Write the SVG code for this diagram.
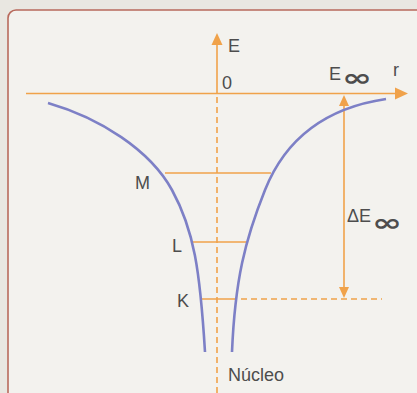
<svg xmlns="http://www.w3.org/2000/svg" width="417" height="393" viewBox="0 0 417 393">
<style>
.ax{stroke:#f0a24a;stroke-width:1.6;fill:none}
.dash{stroke-dasharray:6,4}
.lvl{stroke:#f0a24a;stroke-width:1.6;fill:none}
.curve{stroke:#7d80c6;stroke-width:2.6;fill:none}
.head{fill:#f0a24a}
text{font-family:"Liberation Sans",Arial,sans-serif;fill:#4d4d4d;font-size:18px}
.inf{font-family:"DejaVu Sans",sans-serif;font-weight:bold;font-size:24px}
</style>
<rect x="0" y="0" width="417" height="393" fill="#e9e7e1"/>
<rect x="8" y="10" width="430" height="400" rx="8" fill="#f3f2ee" stroke="#b86a5c" stroke-width="1.6"/>
<g id="connectors">
<line class="ax" x1="217" y1="42" x2="217" y2="93"/>
<line class="ax dash" x1="217" y1="97" x2="217" y2="393"/>
<polygon class="head" points="217,33 211.5,45 222.5,45"/>
<line class="ax" x1="26" y1="93.5" x2="397" y2="93.5"/>
<polygon class="head" points="408,93.5 395,87.5 395,99.5"/>
<line class="ax" x1="344" y1="104" x2="344" y2="288"/>
<polygon class="head" points="344,95 339,106 349,106"/>
<polygon class="head" points="344,298 339,287 349,287"/>
<line class="lvl" x1="165" y1="173" x2="271" y2="173"/>
<line class="lvl" x1="192" y1="242" x2="246" y2="242"/>
<line class="lvl" x1="201" y1="299" x2="237" y2="299"/>
<line class="lvl dash" x1="241" y1="299" x2="382" y2="299"/>
</g>
<g id="curves">
<path class="curve" d="M48,103 C100,118 150,150 172,190 S200,270 205,352"/>
<path class="curve" d="M386,99 C325,108 285,140 265,190 S235,280 232,352"/>
</g>
<g id="labels">
<text x="228" y="52" font-size="17">E</text>
<text x="222" y="89" font-size="17">0</text>
<text x="393" y="76" font-size="18">r</text>
<text x="329" y="80" font-size="20">E</text>
<text class="inf" transform="translate(342,86) scale(1.5,1)">∞</text>
<text x="347" y="222" font-size="17">ΔE</text>
<text class="inf" transform="translate(372,231) scale(1.5,1)">∞</text>
<text x="135" y="189">M</text>
<text x="172" y="252">L</text>
<text x="177" y="307">K</text>
<text x="228" y="381">Núcleo</text>
</g>
</svg>
